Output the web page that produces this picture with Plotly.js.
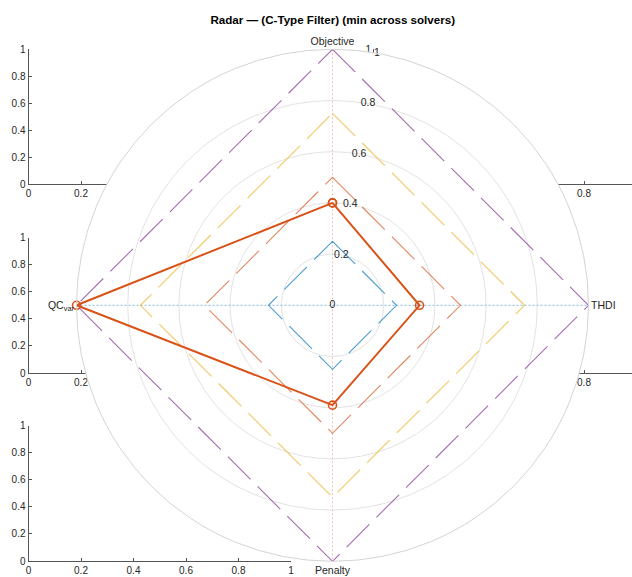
<!DOCTYPE html>
<html>
<head>
<meta charset="utf-8">
<script src="https://cdn.plot.ly/plotly-3.0.1.min.js"></script>
<style>
  html, body { margin: 0; padding: 0; background: #ffffff; }
  #chart { width: 632px; height: 577px; }
</style>
</head>
<body>
<div id="chart"></div>
<script>
// Radar axes (clockwise from the top) and their angles in degrees
const axisNames = ['Objective', 'THDI', 'Penalty', 'QC<sub>var</sub>'];
const axisAngles = [0, 90, 180, 270];

// Minimum normalised score across solvers for each radar axis
const minScores = [0.40, 0.34, 0.39, 1.00];

// Reference diamond levels and their colours
const refLevels = [0.25, 0.50, 0.75, 1.00];
const refColors = ['#0072BD', '#D95319', '#EDB120', '#7E2F8E'];

// Radial ring ticks
const ringTicks = [0, 0.2, 0.4, 0.6, 0.8, 1];
const ringLabels = ['0', '0.2', '0.4', '0.6', '0.8', '1'];
const ringLabelAngle = 10;

// Ticks of the underlying cartesian panels
const cartTicks = [0, 0.2, 0.4, 0.6, 0.8, 1];
const cartTickText = ['0', '0.2', '0.4', '0.6', '0.8', '1'];

const textColor = '#262626';
const axisLineColor = '#555555';
const fontFamily = 'Liberation Sans, Arial, Helvetica, sans-serif';

const closeLoop = a => a.concat([a[0]]);

const traces = [];

// empty cartesian panels beneath the radar
const panels = [['x', 'y'], ['x2', 'y2'], ['x3', 'y3'], ['x4', 'y4'], ['x5', 'y5']];
panels.forEach(p => traces.push({
  type: 'scatter', x: [], y: [], xaxis: p[0], yaxis: p[1],
  showlegend: false, hoverinfo: 'skip'
}));

// spokes along the four radar axes
traces.push({
  type: 'scatterpolar', mode: 'lines',
  r: [1, 0, 1], theta: [axisAngles[3], 0, axisAngles[1]],
  line: { color: '#86b8e0', width: 1, dash: '2px,2px' },
  showlegend: false, hoverinfo: 'skip'
});
traces.push({
  type: 'scatterpolar', mode: 'lines',
  r: [1, 0, 1], theta: [axisAngles[0], 0, axisAngles[2]],
  line: { color: '#efc0b6', width: 1, dash: '2px,2px' },
  showlegend: false, hoverinfo: 'skip'
});

// reference diamonds
refLevels.forEach((lvl, i) => traces.push({
  type: 'scatterpolar', mode: 'lines',
  r: closeLoop(axisAngles.map(() => lvl)),
  theta: closeLoop(axisAngles),
  line: { color: refColors[i], width: 1.1, dash: '32px,10px' },
  opacity: 0.7,
  showlegend: false, hoverinfo: 'skip'
}));

// minimum-score polygon
traces.push({
  type: 'scatterpolar', mode: 'lines+markers',
  r: closeLoop(minScores), theta: closeLoop(axisAngles),
  line: { color: '#D95319', width: 2 },
  marker: { symbol: 'circle-open', size: 8, color: '#D95319', line: { width: 1.6 } },
  showlegend: false
});

// radial tick labels
traces.push({
  type: 'scatterpolar', mode: 'text',
  r: ringTicks, theta: ringTicks.map(() => ringLabelAngle),
  text: ringLabels, textposition: 'middle center',
  textfont: { family: fontFamily, size: 10.5, color: textColor },
  showlegend: false, hoverinfo: 'skip'
});

const W = 632, H = 577;
const px = v => v / W;
const py = v => 1 - v / H;

function cartX(domain, range) {
  return {
    domain: domain, range: range, tickvals: cartTicks, ticktext: cartTickText,
    showline: true, linecolor: axisLineColor, linewidth: 1,
    ticks: 'inside', ticklen: 3, tickcolor: axisLineColor,
    showgrid: false, zeroline: false, fixedrange: true,
    tickfont: { family: fontFamily, size: 10, color: textColor }
  };
}
function cartY(domain, anchor) {
  return {
    domain: domain, range: [0, 1], anchor: anchor, tickvals: cartTicks, ticktext: cartTickText,
    showline: true, linecolor: axisLineColor, linewidth: 1,
    ticks: 'inside', ticklen: 3, tickcolor: axisLineColor,
    showgrid: false, zeroline: false, fixedrange: true,
    tickfont: { family: fontFamily, size: 10, color: textColor }
  };
}

const leftCol = [px(28.5), px(291)];
const rightCol = [px(374), 1];
const rightRange = [0, (W - 374) / 262.5];
const rowTop = [py(184.3), py(49.3)];
const rowMid = [py(373), py(237.7)];
const rowBot = [py(561), py(425.7)];

const layout = {
  width: W, height: H,
  margin: { l: 0, r: 0, t: 0, b: 0 },
  paper_bgcolor: '#ffffff', plot_bgcolor: 'rgba(0,0,0,0)',
  font: { family: fontFamily, color: textColor },
  title: {
    text: '<b>Radar — (C-Type Filter) (min across solvers)</b>',
    x: 0.5265, xanchor: 'center', y: 1 - 20 / H, yanchor: 'middle',
    font: { family: fontFamily, size: 11.6, color: '#000000' }
  },
  xaxis: Object.assign(cartX(leftCol, [0, 1]), { anchor: 'y' }),
  yaxis: cartY(rowTop, 'x'),
  xaxis2: Object.assign(cartX(leftCol, [0, 1]), { anchor: 'y2' }),
  yaxis2: cartY(rowMid, 'x2'),
  xaxis3: Object.assign(cartX(leftCol, [0, 1]), { anchor: 'y3' }),
  yaxis3: cartY(rowBot, 'x3'),
  xaxis4: Object.assign(cartX(rightCol, rightRange), { anchor: 'y4' }),
  yaxis4: cartY(rowTop, 'x4'),
  xaxis5: Object.assign(cartX(rightCol, rightRange), { anchor: 'y5' }),
  yaxis5: cartY(rowMid, 'x5'),
  polar: {
    domain: { x: [px(332.5 - 256), px(332.5 + 256)], y: [py(305.3 + 256), py(305.3 - 256)] },
    bgcolor: '#ffffff',
    radialaxis: {
      range: [0, 1], tickvals: ringTicks.slice(1),
      showticklabels: false, ticks: '', showline: false,
      gridcolor: '#e3e3e3', gridwidth: 1
    },
    angularaxis: {
      rotation: 90, direction: 'clockwise', thetaunit: 'degrees',
      tickvals: axisAngles, ticktext: axisNames, ticks: '',
      showgrid: false, showline: true, linecolor: '#d4d4d4', linewidth: 1,
      tickfont: { family: fontFamily, size: 10.5, color: textColor }
    }
  },
  showlegend: false
};

Plotly.newPlot('chart', traces, layout, { staticPlot: true, displayModeBar: false });
</script>
</body>
</html>
